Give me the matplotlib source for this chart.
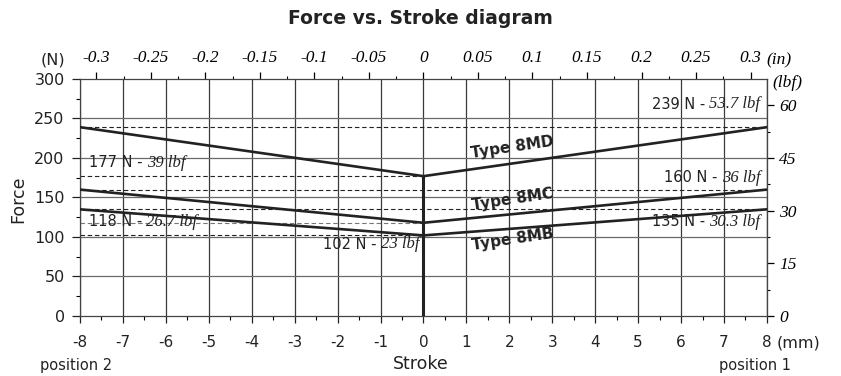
import numpy as np
import matplotlib.pyplot as plt

plt.rcParams["axes.unicode_minus"] = False

# Spring force data (N) at each stroke end and centre (mm)
stroke_mm = [-8, 0, 8]
force_8md = [239, 177, 239]
force_8mc = [160, 118, 160]
force_8mb = [135, 102, 135]
type_names = ["Type 8MD", "Type 8MC", "Type 8MB"]

# Reference force levels, N and lbf
ref_N = [239, 177, 160, 135, 118, 102]
ref_lbf = ["53.7", "39", "36", "30.3", "26.7", "23"]

N_PER_LBF = 4.448
MM_PER_IN = 25.4

SANS = "DejaVu Sans"
SERIF = "Liberation Serif"
DARK = "#222222"

fig = plt.figure(figsize=(8.41, 3.76), dpi=100)
ax = fig.add_axes([0.0951, 0.1596, 0.8168, 0.6303])

# Grid: dark vertical lines per mm, grey horizontal lines per 50 N
for xv in range(-8, 9):
    ax.axvline(xv, color="#3a3a3a", lw=0.9, zorder=1)
for yv in range(50, 300, 50):
    ax.axhline(yv, color="#6a6a6a", lw=0.9, zorder=1)

# Dashed reference levels: end forces across the whole stroke,
# centre forces only out to position 2
centre = [force_8md[1], force_8mc[1], force_8mb[1]]
for f in ref_N:
    if f in centre:
        col = "#777777" if f == force_8mc[1] else DARK
        ax.hlines(f, stroke_mm[0], stroke_mm[1], color=col, lw=0.8,
                  ls=(0, (4, 2.5)), zorder=2)
    else:
        ax.hlines(f, stroke_mm[0], stroke_mm[2], color=DARK, lw=0.8,
                  ls=(0, (4, 2.5)), zorder=2)

# Force curves
for forces in (force_8md, force_8mc, force_8mb):
    ax.plot(stroke_mm, forces, color=DARK, lw=1.9, zorder=3)
ax.plot([0, 0], [0, force_8md[1]], color=DARK, lw=2.2, zorder=3)

ax.set_xlim(-8, 8)
ax.set_ylim(0, 300)

ax.set_xticks(np.arange(-8, 9, 1))
ax.set_xticks(np.arange(-8, 8.5, 0.5), minor=True)
ax.set_yticks(np.arange(0, 301, 50))
ax.set_yticks(np.arange(0, 301, 25), minor=True)
ax.tick_params(axis="x", which="major", length=5, width=0.9, pad=9,
               labelsize=11, colors=DARK)
ax.tick_params(axis="x", which="minor", length=3, width=0.8)
ax.tick_params(axis="y", which="major", length=6, width=0.9, pad=5,
               labelsize=11.5, colors=DARK)
ax.tick_params(axis="y", which="minor", length=3, width=0.8)
for lab in ax.get_xticklabels() + ax.get_yticklabels():
    lab.set_family(SANS)
for sp in ax.spines.values():
    sp.set_linewidth(0.9)
    sp.set_color("#444444")

# Secondary scales in inches and pounds-force
top = ax.secondary_xaxis("top", functions=(lambda x: x / MM_PER_IN,
                                           lambda x: x * MM_PER_IN))
top.set_xticks(np.round(np.arange(-0.3, 0.31, 0.05), 2))
top.set_xticks(np.arange(-0.3, 0.31, 0.025), minor=True)
top.set_xticklabels(["-0.3", "-0.25", "-0.2", "-0.15", "-0.1", "-0.05", "0",
                     "0.05", "0.1", "0.15", "0.2", "0.25", "0.3"])
top.tick_params(which="major", length=5, width=0.9, pad=4, labelsize=12.5)
top.tick_params(which="minor", length=2.5, width=0.8)
for lab in top.get_xticklabels():
    lab.set_family(SERIF)
    lab.set_style("italic")
top.spines["top"].set_visible(False)

right = ax.secondary_yaxis("right", functions=(lambda y: y / N_PER_LBF,
                                               lambda y: y * N_PER_LBF))
right.set_yticks([0, 15, 30, 45, 60])
right.set_yticks(np.arange(0, 61, 7.5), minor=True)
right.tick_params(which="major", length=5, width=0.9, pad=4, labelsize=12.5)
right.tick_params(which="minor", length=2.5, width=0.8)
for lab in right.get_yticklabels():
    lab.set_family(SERIF)
    lab.set_style("italic")
right.spines["right"].set_color("#666666")

# Units
xax = ax.get_xaxis_transform()
ax.text(-0.058, 1.08, "(N)", transform=ax.transAxes, fontsize=11.5,
        family=SANS, ha="left", va="center", color=DARK)
ax.text(7.98, 1.08, "(in)", transform=xax, fontsize=12.5, family=SERIF,
        style="italic", ha="left", va="center")
ax.text(8.13, 0.985, "(lbf)", transform=xax, fontsize=12.5, family=SERIF,
        style="italic", ha="left", va="center")
ax.text(8.22, -0.113, "(mm)", transform=xax, fontsize=11.5, family=SANS,
        ha="left", va="center", color=DARK)

# Axis titles
fig.text(0.5, 0.95, "Force vs. Stroke diagram", fontsize=13.5, weight="bold",
         family=SANS, ha="center", va="center", color=DARK)
fig.text(0.022, 0.47, "Force", rotation=90, fontsize=12.5, family=SANS,
         ha="center", va="center", color=DARK)
fig.text(0.5, 0.033, "Stroke", fontsize=12.5, family=SANS, ha="center",
         va="center", color=DARK)
fig.text(0.047, 0.027, "position 2", fontsize=10.5, family=SANS, ha="left",
         va="center", color=DARK)
fig.text(0.94, 0.027, "position 1", fontsize=10.5, family=SANS, ha="right",
         va="center", color=DARK)


def level_label(x, y, n, lbf, side):
    """Write 'n N - lbf lbf' with the lbf part in italic serif."""
    kw = dict(va="center", color=DARK, zorder=4)
    if side == "right":
        t2 = ax.text(x, y, lbf + " lbf", fontsize=12, family=SERIF,
                     style="italic", ha="right", **kw)
        ax.annotate("%d N - " % n, xy=(0, 0.5), xycoords=t2, ha="right",
                    fontsize=10.5, family=SANS, **kw)
    else:
        t1 = ax.text(x, y, "%d N - " % n, fontsize=10.5, family=SANS,
                     ha="left", **kw)
        ax.annotate(lbf + " lbf", xy=(1, 0.5), xycoords=t1, ha="left",
                    fontsize=12, family=SERIF, style="italic", **kw)


level_label(7.85, 268, ref_N[0], ref_lbf[0], "right")
level_label(-7.8, 194, ref_N[1], ref_lbf[1], "left")
level_label(7.85, 175, ref_N[2], ref_lbf[2], "right")
level_label(7.85, 119, ref_N[3], ref_lbf[3], "right")
level_label(-7.8, 119, ref_N[4], ref_lbf[4], "left")
level_label(-0.1, 91, ref_N[5], ref_lbf[5], "right")

# Curve names
for name, yv in zip(type_names, [214, 148, 97]):
    ax.text(2.07, yv, name, rotation=8.5, fontsize=11, weight="bold",
            family=SANS, ha="center", va="center", color=DARK, zorder=4,
            rotation_mode="anchor")

fig.savefig("out.png", dpi=100)
